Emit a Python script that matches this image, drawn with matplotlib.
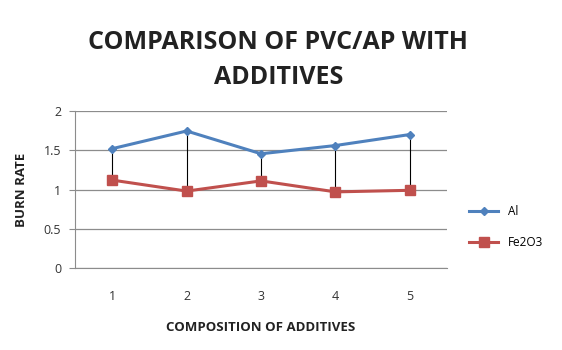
import matplotlib
matplotlib.use('Agg')
import matplotlib.pyplot as plt
import numpy as np

compositions = [1, 2, 3, 4, 5]
al = [1.52, 1.745, 1.455, 1.56, 1.70]
fe2o3 = [1.12, 0.98, 1.11, 0.97, 0.99]

plt.rcParams['font.family'] = ['Open Sans', 'DejaVu Sans']

fig = plt.figure(figsize=(5.62, 3.5), dpi=100)
ax = fig.add_axes([0.1335, 0.234, 0.662, 0.449])

x = np.array(compositions)
# high-low lines between the series
ax.vlines(x, fe2o3, al, colors='black', linewidth=0.8, zorder=2)
ax.plot(x, al, color='#4F81BD', linewidth=2.2, marker='D', markersize=4.5,
        label='Al', zorder=3)
ax.plot(x, fe2o3, color='#C0504D', linewidth=2.2, marker='s', markersize=7,
        label='Fe2O3', zorder=3)

ax.set_xlim(0.5, 5.5)
ax.set_ylim(0, 2)
ax.set_yticks([0, 0.5, 1, 1.5, 2])
ax.set_yticklabels(['0', '0.5', '1', '1.5', '2'])
ax.set_xticks(x)
ax.yaxis.grid(True, color='#8c8c8c', linewidth=0.9)
ax.set_axisbelow(True)
for s in ['top', 'right']:
    ax.spines[s].set_visible(False)
for s in ['left', 'bottom']:
    ax.spines[s].set_color('#8c8c8c')
ax.tick_params(axis='y', length=4, color='#8c8c8c', labelsize=9, labelcolor='#333333', pad=6)
ax.tick_params(axis='x', length=0, labelsize=9, labelcolor='#333333', pad=16)

ax.set_ylabel('BURN RATE', fontsize=9.5, fontweight='bold', labelpad=11, color='#222222')
ax.set_xlabel('COMPOSITION OF ADDITIVES', fontsize=9.5, fontweight='bold',
              labelpad=13, color='#222222')

fig.text(0.495, 0.879, 'COMPARISON OF PVC/AP WITH', ha='center', va='center',
         fontsize=18, fontweight='bold', color='#222222')
fig.text(0.495, 0.779, 'ADDITIVES', ha='center', va='center',
         fontsize=18, fontweight='bold', color='#222222')

ax.legend(loc='center left', bbox_to_anchor=(1.03, 0.26), frameon=False,
          fontsize=8.5, handlelength=2.5, labelspacing=1.5)

fig.savefig('out.png', dpi=100)
